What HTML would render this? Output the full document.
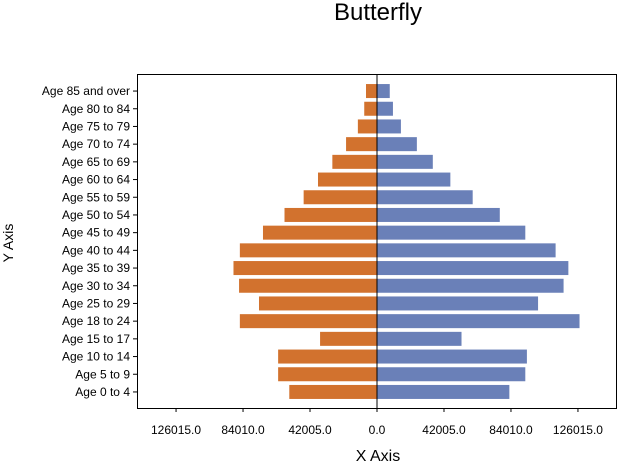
<!DOCTYPE html>
<html><head><meta charset="utf-8"><style>
body{margin:0;background:#fff;}
svg text{font-family:"Liberation Sans",Arial,sans-serif;}
</style></head><body>
<svg id="c" width="618" height="463">
<text x="378" y="20" font-size="24" text-anchor="middle">Butterfly</text>
<text x="378" y="463" dy="-2" font-size="16" text-anchor="middle">X Axis</text>
<text transform="translate(13,243) rotate(-90)" font-size="14" text-anchor="middle">Y Axis</text>
<g id="plot"></g>
</svg>
<script>
const categories=["Age 0 to 4","Age 5 to 9","Age 10 to 14","Age 15 to 17","Age 18 to 24","Age 25 to 29","Age 30 to 34","Age 35 to 39","Age 40 to 44","Age 45 to 49","Age 50 to 54","Age 55 to 59","Age 60 to 64","Age 65 to 69","Age 70 to 74","Age 75 to 79","Age 80 to 84","Age 85 and over"];
const leftValues=[55000,62000,62000,35700,86000,74000,86500,90000,86000,71500,58000,46000,37000,28000,19400,12000,8000,6900];
const rightValues=[83000,93000,94000,53000,127000,101000,117000,120000,112000,93000,77000,60000,46000,35000,25000,15000,10000,8000];
const tickValues=[-126015,-84010,-42005,0,42005,84010,126015];
const tickLabels=["126015.0","84010.0","42005.0","0.0","42005.0","84010.0","126015.0"];
const NS="http://www.w3.org/2000/svg";
const L=137,R=617,T=74,B=408,D=150500;
const x=v=>377+v*(R-377)/D;
const n=categories.length, step=17.7, mid=(T+B)/2+0.5;
const y=i=>mid+step*((n-1)/2-i);
const g=document.getElementById('plot');
function mk(t,a){const e=document.createElementNS(NS,t);for(const k in a)e.setAttribute(k,a[k]);g.appendChild(e);return e;}
const frame=mk('rect',{x:L+0.5,y:T+0.5,width:R-L-1,height:B-T,fill:'none',stroke:'#000'});


categories.forEach((c,i)=>{
  const bh=14;
  const lb=mk('rect',{x:x(-leftValues[i]),y:y(i)-bh/2,width:x(0)-x(-leftValues[i]),height:bh,fill:'#d2722e'});
  
  
  const rb=mk('rect',{x:x(0),y:y(i)-bh/2,width:x(rightValues[i])-x(0),height:bh,fill:'#6a80b8'});
  
  
  const tk=mk('line',{x1:L-4,x2:L,y1:y(i),y2:y(i),stroke:'#000'});
  
  
  const t=mk('text',{x:L-7,y:y(i)+4,'font-size':12,'text-anchor':'end'});
  t.textContent=c;
  
  
});
const zl=mk('line',{x1:x(0),x2:x(0),y1:T,y2:B,stroke:'#000'});


tickValues.forEach((v,i)=>{
  const tk=mk('line',{x1:x(v),x2:x(v),y1:B,y2:B+4,stroke:'#000'});
  
  
  const t=mk('text',{x:x(v),y:B+26,'font-size':12,'text-anchor':'middle'});
  t.textContent=tickLabels[i];
  
  
});
</script>
</body></html>
